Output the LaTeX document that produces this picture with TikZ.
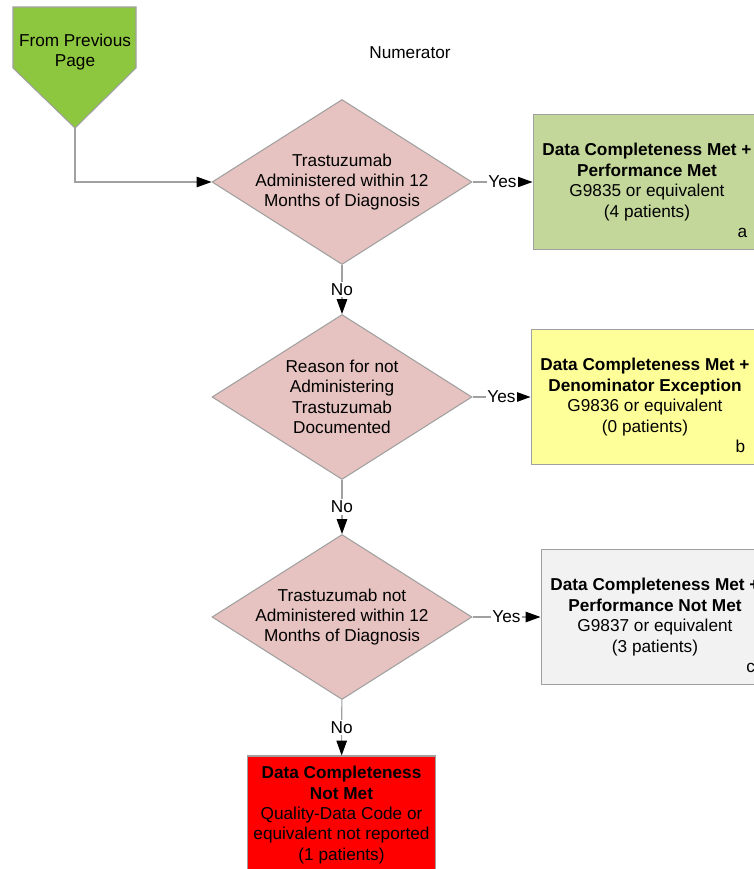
\documentclass[tikz,border=0pt]{standalone}
\usepackage{fontspec}
\setmainfont{Liberation Sans}
\usepackage{tikz}
\usetikzlibrary{shapes.geometric,arrows.meta,positioning}
\definecolor{fromgreen}{RGB}{141,198,63}
\definecolor{decpink}{RGB}{230,195,192}
\definecolor{metgreen}{RGB}{196,215,155}
\definecolor{excyellow}{RGB}{255,255,153}
\definecolor{notmetgray}{RGB}{242,242,242}
\definecolor{linegray}{RGB}{160,160,160}
\begin{document}
\begin{tikzpicture}[x=0.02cm,y=-0.02cm,
  font=\fontsize{9.8}{11.6}\selectfont,
  line/.style={draw=linegray,line width=0.6pt},
  arr/.style={line,-{Triangle[length=8.5pt,width=6pt,color=black]}},
  decision/.style={diamond,line,fill=decpink,aspect=1.6,inner sep=-8pt,
    minimum width=5.2cm,minimum height=3.3cm,align=center},
  result/.style={rectangle,line,align=center,minimum width=4.56cm,minimum height=2.7cm},
  tag/.style={fill=white,inner sep=1pt},
  corner/.style={above left=7pt and 8pt,inner sep=0pt}]
\path[use as bounding box,clip] (0,0) rectangle (754,869);
\draw[line,fill=fromgreen] (13,7) -- (136,7) -- (136,68) -- (75,128) -- (13,68) -- cycle;
\node[align=center] (prevtext) at (75,52) {From Previous\\Page};
\coordinate (prev) at (75,128);
\node (title) at (410,53) {Numerator};
\node[decision] (d1) at (342,182) {Trastuzumab\\Administered within 12\\Months of Diagnosis};
\node[decision] (d2) at (342,397) {Reason for not\\Administering\\Trastuzumab\\Documented};
\node[decision] (d3) at (342,617) {Trastuzumab not\\Administered within 12\\Months of Diagnosis};
\node[result,fill=metgreen] (ra) at (647,182) {\textbf{Data Completeness Met +}\\\textbf{Performance Met}\\G9835 or equivalent\\(4 patients)};
\node[result,fill=excyellow] (rb) at (645,397) {\textbf{Data Completeness Met +}\\\textbf{Denominator Exception}\\G9836 or equivalent\\(0 patients)};
\node[result,fill=notmetgray] (rc) at (655,617) {\textbf{Data Completeness Met +}\\\textbf{Performance Not Met}\\G9837 or equivalent\\(3 patients)};
\node[rectangle,line,fill=red,align=center,minimum width=3.7cm,minimum height=2.36cm] (rd) at (341.5,815)
  {\textbf{Data Completeness}\\\textbf{Not Met}\\Quality-Data Code or\\equivalent not reported\\(1 patients)};
\node[corner] (la) at (ra.south east) {a};
\node[corner] (lb) at (rb.south east) {b};
\node[corner] (lc) at (rc.south east) {c};
\draw[arr] (prev) |- (d1);
\draw[arr] (d1) -- node[tag] {Yes} (ra);
\draw[arr] (d2) -- node[tag] {Yes} (rb);
\draw[arr] (d3) -- node[tag] {Yes} (rc);
\draw[arr] (d1) -- node[tag] {No} (d2);
\draw[arr] (d2) -- node[tag] {No} (d3);
\draw[arr] (d3) -- node[tag] {No} (rd);
\end{tikzpicture}
\end{document}
